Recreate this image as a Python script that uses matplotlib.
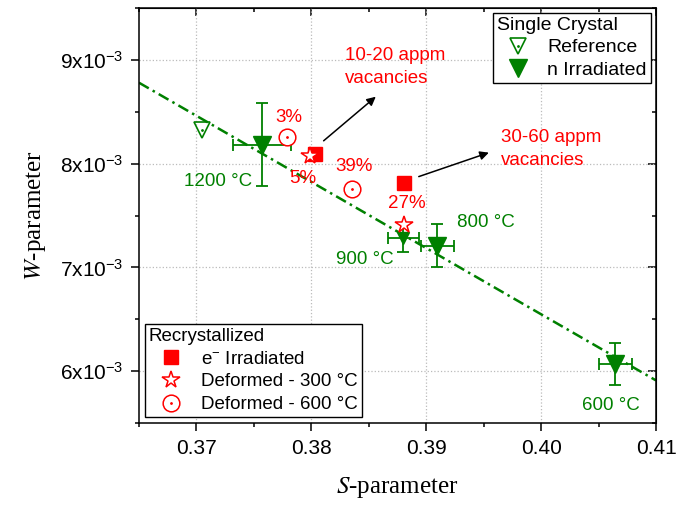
import matplotlib
matplotlib.use("Agg")
import matplotlib.pyplot as plt
from matplotlib.lines import Line2D
from matplotlib.legend_handler import HandlerTuple
from matplotlib.ticker import MultipleLocator, FuncFormatter

plt.rcParams['font.family'] = ['Liberation Sans', 'DejaVu Sans']
plt.rcParams['mathtext.fontset'] = 'custom'
plt.rcParams['mathtext.rm'] = 'Liberation Sans'
plt.rcParams['mathtext.it'] = 'Liberation Sans:italic'

GREEN = '#008000'
RED = '#ff0000'

# single crystal, reference
ref_s = [0.3705]
ref_w = [8.32e-3]

# single crystal, neutron irradiated + annealed
n_s = [0.37571, 0.38800, 0.39096, 0.40647]
n_w = [8.18e-3, 7.284e-3, 7.21e-3, 6.067e-3]
n_s_err = [0.0025, 0.00135, 0.00144, 0.00144]
n_w_err = [0.40e-3, 0.14e-3, 0.21e-3, 0.20e-3]
n_labels = ['1200 °C', '900 °C', '800 °C', '600 °C']

# recrystallized, electron irradiated
e_s = [0.38033, 0.38808]
e_w = [8.096e-3, 7.81e-3]
e_labels = ['10-20 appm\nvacancies', '30-60 appm\nvacancies']

# recrystallized, deformed at 300 C and 600 C
d300_s = [0.37991, 0.38807]
d300_w = [8.07e-3, 7.413e-3]
d300_labels = ['5%', '27%']
d600_s = [0.37787, 0.38353]
d600_w = [8.253e-3, 7.757e-3]
d600_labels = ['3%', '39%']

# linear trend line
fit_s = [0.365, 0.41]
fit_w = [8.78e-3, 5.91e-3]

fig = plt.figure(figsize=(6.78, 5.07), dpi=100)
ax = fig.add_axes([0.205, 0.1657, 0.7626, 0.8185])

ax.plot(fit_s, fit_w, color=GREEN, lw=1.8, ls=(0, (4.5, 1.8, 1, 1.8)), zorder=2)

ax.errorbar(n_s, n_w, xerr=n_s_err, yerr=n_w_err, fmt='none', ecolor=GREEN,
            elinewidth=1.3, capsize=4, capthick=1.3, zorder=3)
n_ms = [13, 9, 13, 13]
for s, w, ms in zip(n_s, n_w, n_ms):
    ax.plot(s, w, 'v', color=GREEN, ms=ms, zorder=4)

ax.plot(ref_s, ref_w, 'v', mfc='none', mec=GREEN, mew=1.2, ms=12, zorder=4)
ax.plot(ref_s, ref_w, '.', color=GREEN, ms=2, zorder=4)

ax.plot(e_s, e_w, 's', color=RED, ms=10, zorder=5)
ax.plot(d600_s, d600_w, 'o', mfc='white', mec=RED, mew=1.1, ms=12, zorder=5)
ax.plot(d600_s, d600_w, '.', color=RED, ms=2, zorder=5)
ax.plot(d300_s, d300_w, '*', mfc='white', mec=RED, mew=1.1, ms=13, zorder=6)

# text labels next to the points
n_text_xy = [(0.37192, 7.827e-3), (0.38464, 7.077e-3), (0.39519, 7.433e-3), (0.40608, 5.673e-3)]
for (x, y), t in zip(n_text_xy, n_labels):
    ax.text(x, y, t, color=GREEN, fontsize=13.5, ha='center', va='center')
d300_text_xy = [(0.37924, 7.856e-3), (0.38830, 7.615e-3)]
for (x, y), t in zip(d300_text_xy, d300_labels):
    ax.text(x, y, t, color=RED, fontsize=13.5, ha='center', va='center')
d600_text_xy = [(0.37802, 8.442e-3), (0.38368, 7.971e-3)]
for (x, y), t in zip(d600_text_xy, d600_labels):
    ax.text(x, y, t, color=RED, fontsize=13.5, ha='center', va='center')

e_text_xy = [(0.3829, 8.933e-3), (0.39649, 8.144e-3)]
arrow_tail = [(0.38107, 8.22e-3), (0.38935, 7.875e-3)]
arrow_head = [(0.38561, 8.645e-3), (0.39545, 8.106e-3)]
for (x, y), t in zip(e_text_xy, e_labels):
    ax.text(x, y, t, color=RED, fontsize=13.5, ha='left', va='center', linespacing=1.45)
for tail, head in zip(arrow_tail, arrow_head):
    ax.annotate('', xy=head, xytext=tail,
                arrowprops=dict(arrowstyle='-|>', color='black', lw=1.1,
                                mutation_scale=13, shrinkA=0, shrinkB=0))

ax.set_xlim(0.365, 0.41)
ax.set_ylim(5.5e-3, 9.5e-3)
ax.xaxis.set_major_locator(MultipleLocator(0.01))
ax.xaxis.set_minor_locator(MultipleLocator(0.005))
ax.yaxis.set_major_locator(MultipleLocator(1e-3))
ax.yaxis.set_minor_locator(MultipleLocator(0.5e-3))
ax.xaxis.set_major_formatter(FuncFormatter(lambda v, p: f'{v:.2f}'))
ax.yaxis.set_major_formatter(FuncFormatter(lambda v, p: f'{v * 1e3:.0f}x10$^{{-3}}$'))
ax.tick_params(which='both', direction='out', width=1.1, labelsize=15, pad=6)
ax.tick_params(which='major', length=5.5)
ax.tick_params(which='minor', length=3)
ax.grid(True, which='major', color='#bbbbbb', ls=':', lw=0.9)
for sp in ax.spines.values():
    sp.set_linewidth(1.1)

# mirrored ticks pointing inward on top and right
top = ax.secondary_xaxis('top')
top.xaxis.set_major_locator(MultipleLocator(0.01))
top.xaxis.set_minor_locator(MultipleLocator(0.005))
top.tick_params(which='both', direction='in', labeltop=False, width=1.1)
top.tick_params(which='major', length=5.5)
top.tick_params(which='minor', length=3)
right = ax.secondary_yaxis('right')
right.yaxis.set_major_locator(MultipleLocator(1e-3))
right.yaxis.set_minor_locator(MultipleLocator(0.5e-3))
right.tick_params(which='both', direction='in', labelright=False, width=1.1)
right.tick_params(which='major', length=5.5)
right.tick_params(which='minor', length=3)

ax.set_xlabel('$S$-parameter', family='Liberation Serif', math_fontfamily='stix',
              fontsize=18, labelpad=12)
ax.set_ylabel('$W$-parameter', family='Liberation Serif', math_fontfamily='stix',
              fontsize=18, labelpad=8)

# legends; hollow markers get a centre dot overlaid
overlay = {tuple: HandlerTuple(ndivide=1, pad=0)}
h_ref = (Line2D([], [], ls='none', marker='v', mfc='none', mec=GREEN, mew=1.2, ms=12),
         Line2D([], [], ls='none', marker='.', color=GREEN, ms=2))
h_n = Line2D([], [], ls='none', marker='v', color=GREEN, ms=13)
leg1 = ax.legend([h_ref, h_n], ['Reference', 'n Irradiated'], title='Single Crystal',
                 loc='upper right', bbox_to_anchor=(0.99, 0.988), borderaxespad=0,
                 fontsize=14, title_fontsize=14, alignment='left', fancybox=False,
                 edgecolor='black', framealpha=1, borderpad=0.2, labelspacing=0.25,
                 handlelength=2.2, handletextpad=0.4, handler_map=overlay)
leg1.get_frame().set_linewidth(1.0)
ax.add_artist(leg1)

h_e = Line2D([], [], ls='none', marker='s', color=RED, ms=10)
h_d300 = Line2D([], [], ls='none', marker='*', mfc='white', mec=RED, mew=1.1, ms=13)
h_d600 = (Line2D([], [], ls='none', marker='o', mfc='white', mec=RED, mew=1.1, ms=12),
          Line2D([], [], ls='none', marker='.', color=RED, ms=2))
leg2 = ax.legend([h_e, h_d300, h_d600],
                 ['e$^{-}$ Irradiated', 'Deformed - 300 °C', 'Deformed - 600 °C'],
                 title='Recrystallized', loc='lower left', bbox_to_anchor=(0.0116, 0.0145),
                 borderaxespad=0, fontsize=13.5, title_fontsize=13.5, alignment='left',
                 fancybox=False, edgecolor='black', framealpha=1, borderpad=0.2,
                 labelspacing=0.3, handlelength=2.4, handletextpad=0.4,
                 handler_map=overlay)
leg2.get_frame().set_linewidth(1.0)

fig.savefig('out.png', dpi=100)
